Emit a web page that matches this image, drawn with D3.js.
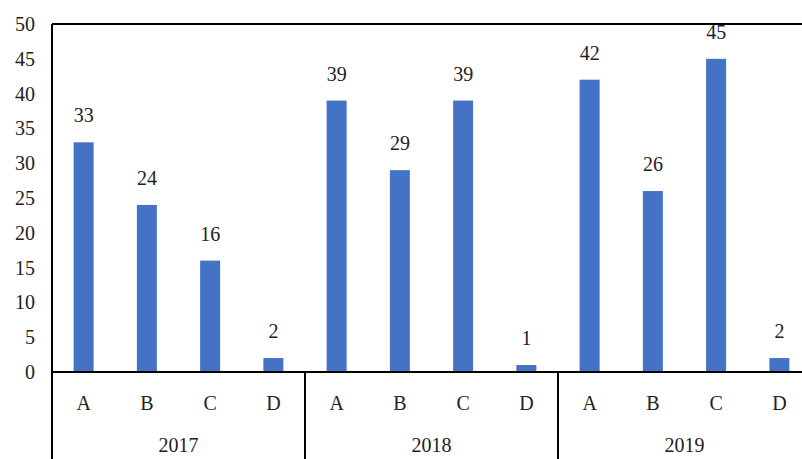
<!DOCTYPE html>
<html>
<head>
<meta charset="utf-8">
<style>
  body { margin: 0; background: #fff; }
  svg text { font-family: "Liberation Serif", "DejaVu Serif", serif; font-size: 20px; fill: #222; }
  .frame { stroke: #000; stroke-width: 2px; fill: none; shape-rendering: crispEdges; }
</style>
</head>
<body>
<div id="chart"></div>
<script src="https://cdnjs.cloudflare.com/ajax/libs/d3/7.8.5/d3.min.js"></script>
<script>
  // data
  let years = ["2017", "2018", "2019"];
  let categories = ["A", "B", "C", "D"];
  let values2017 = [33, 24, 16, 2];
  let values2018 = [39, 29, 39, 1];
  let values2019 = [42, 26, 45, 2];
  let yTicks = [0, 5, 10, 15, 20, 25, 30, 35, 40, 45, 50];

  let seriesByYear = { "2017": values2017, "2018": values2018, "2019": values2019 };

  let w = 802, h = 459;
  let plotLeft = 52, plotRight = 811, plotTop = 24, plotBase = 372;

  let svg = d3.select("#chart").append("svg")
      .attr("width", w)
      .attr("height", h);

  let y = d3.scaleLinear().domain([0, 50]).range([plotBase, plotTop]);
  let x0 = d3.scaleBand().domain(years).range([plotLeft, plotRight]);
  let x1 = d3.scaleBand().domain(categories).range([0, x0.bandwidth()])
      .paddingInner(0.684).paddingOuter(0.342);

  // bars
  let groups = svg.append("g").selectAll("g")
      .data(years)
      .enter().append("g")
        .attr("transform", function(d) { return "translate(" + x0(d) + ",0)"; });

  function rows(yr) {
    return seriesByYear[yr].map(function(v, i) { return { cat: categories[i], v: v }; });
  }

  groups.selectAll("rect")
      .data(rows)
      .enter().append("rect")
        .attr("x", function(d) { return x1(d.cat); })
        .attr("y", function(d) { return y(d.v); })
        .attr("width", x1.bandwidth())
        .attr("height", function(d) { return plotBase - y(d.v); })
        .attr("fill", "#4472C4");

  // value labels
  groups.selectAll("text.val")
      .data(rows)
      .enter().append("text")
        .attr("class", "val")
        .attr("x", function(d) { return x1(d.cat) + x1.bandwidth() / 2; })
        .attr("y", function(d) { return y(d.v) - 20; })
        .attr("text-anchor", "middle")
        .text(function(d) { return d.v; });

  // category labels
  groups.selectAll("text.cat")
      .data(categories)
      .enter().append("text")
        .attr("class", "cat")
        .attr("x", function(d) { return x1(d) + x1.bandwidth() / 2; })
        .attr("y", 410)
        .attr("text-anchor", "middle")
        .text(function(d) { return d; });

  // year labels
  svg.append("g").selectAll("text")
      .data(years)
      .enter().append("text")
        .attr("x", function(d) { return x0(d) + x0.bandwidth() / 2; })
        .attr("y", 452)
        .attr("text-anchor", "middle")
        .text(function(d) { return d; });

  // y axis labels (no tick marks)
  let yAxis = d3.axisLeft(y).tickValues(yTicks).tickSize(0).tickPadding(17);
  let ya = svg.append("g")
      .attr("transform", "translate(" + plotLeft + ",0)")
      .call(yAxis);
  ya.select(".domain").remove();
  ya.selectAll("text").style("font-size", "20px").style("font-family", "'Liberation Serif', serif").attr("fill", "#222");

  // frame lines
  svg.append("line").attr("class", "frame")
      .attr("x1", plotLeft).attr("x2", w).attr("y1", plotTop).attr("y2", plotTop);
  svg.append("line").attr("class", "frame")
      .attr("x1", plotLeft).attr("x2", w).attr("y1", plotBase).attr("y2", plotBase);
  svg.append("line").attr("class", "frame")
      .attr("x1", plotLeft).attr("x2", plotLeft).attr("y1", plotTop).attr("y2", h);
  svg.selectAll("line.sep")
      .data(years.slice(1))
      .enter().append("line")
        .attr("class", "frame sep")
        .attr("x1", function(d) { return x0(d); })
        .attr("x2", function(d) { return x0(d); })
        .attr("y1", plotBase).attr("y2", h);
</script>
</body>
</html>
